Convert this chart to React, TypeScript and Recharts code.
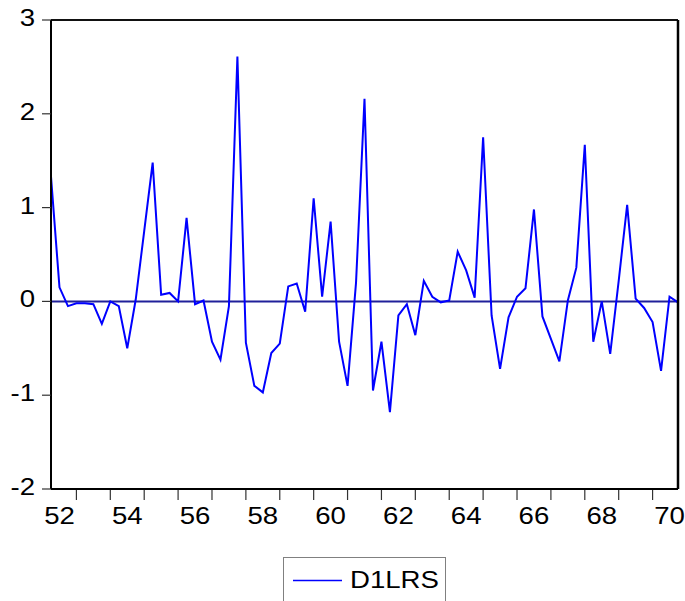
import React from "react";
import { LineChart, Line, XAxis, YAxis, ReferenceLine, Legend } from "recharts";

// D1LRS, quarterly from 1952Q2 to 1970Q4
const FIRST_YEAR = 1952;
const FIRST_QUARTER = 2;

const d1lrs = [
  1.33, 0.15, -0.05, -0.02, -0.02, -0.03, -0.24, 0.0, -0.05, -0.5,
  0.02, 0.75, 1.48, 0.07, 0.09, 0.0, 0.89, -0.03, 0.01, -0.43,
  -0.62, -0.05, 2.61, -0.44, -0.9, -0.97, -0.55, -0.45, 0.16, 0.19,
  -0.11, 1.1, 0.05, 0.85, -0.43, -0.9, 0.2, 2.16, -0.95, -0.43,
  -1.18, -0.15, -0.03, -0.36, 0.22, 0.05, -0.01, 0.01, 0.53, 0.33,
  0.04, 1.75, -0.15, -0.72, -0.17, 0.05, 0.14, 0.98, -0.16, -0.4,
  -0.64, 0.01, 0.36, 1.67, -0.43, 0.0, -0.56, 0.22, 1.03, 0.03,
  -0.07, -0.22, -0.74, 0.05, -0.01,
];

const yTicks = [-2, -1, 0, 1, 2, 3];
const markedYears = [1953, 1954, 1955, 1956, 1957, 1958, 1959, 1960, 1961, 1962, 1963, 1964, 1965, 1966, 1967, 1968, 1969, 1970];
const labelYears = [1952, 1954, 1956, 1958, 1960, 1962, 1964, 1966, 1968, 1970];

const data = d1lrs.map((v, i) => ({ t: i, D1LRS: v }));
const lastIndex = d1lrs.length - 1;

// index of the first quarter of a year on the observation axis
const yearStart = (y: number) => (y - FIRST_YEAR) * 4 - (FIRST_QUARTER - 1);
const startTicks = markedYears.map(yearStart);
const labelTicks = labelYears.map((y) => yearStart(y) + 2);
const labelFor: Record<number, string> = {};
labelYears.forEach((y) => {
  labelFor[yearStart(y) + 2] = String(y).slice(2);
});

const FONT = '"Liberation Sans", Arial, sans-serif';
const STRETCH = "scale(1.2,1)";

const XTick = (props: any) => {
  const { x, y, payload } = props;
  const v = payload.value;
  if (startTicks.includes(v)) {
    return <line x1={x} x2={x} y1={y + 1} y2={y + 11} stroke="#333" strokeWidth={1.2} />;
  }
  return (
    <text
      transform={`translate(${x},${y + 35}) ${STRETCH}`}
      textAnchor="middle"
      fontFamily={FONT}
      fontSize={23}
      fill="#000"
    >
      {labelFor[v]}
    </text>
  );
};

const YTick = (props: any) => {
  const { x, y, payload } = props;
  return (
    <g>
      <line x1={x - 9} x2={x} y1={y} y2={y} stroke="#333" strokeWidth={1.2} />
      <text
        transform={`translate(${x - 16},${y + 6}) ${STRETCH}`}
        textAnchor="end"
        fontFamily={FONT}
        fontSize={23}
        fill="#000"
      >
        {payload.value}
      </text>
    </g>
  );
};

const LegendBox = () => (
  <svg width={164} height={44} style={{ display: "block" }}>
    <rect x={0.5} y={0.5} width={162} height={60} fill="#fff" stroke="#808080" />
    <line x1={10} x2={59} y1={23.5} y2={23.5} stroke="#0000ff" strokeWidth={1.5} />
    <text transform={`translate(67,31) ${STRETCH}`} fontFamily={FONT} fontSize={23} fill="#000">
      D1LRS
    </text>
  </svg>
);

export default function App() {
  return (
    <div style={{ position: "absolute", left: 0, top: 0, background: "#fff" }}>
      <LineChart width={685} height={601} data={data} margin={{ top: 0, right: 0, bottom: 0, left: 0 }}>
        <XAxis
          dataKey="t"
          type="number"
          domain={[0, lastIndex]}
          ticks={[...startTicks, ...labelTicks].sort((a, b) => a - b)}
          interval={0}
          height={112}
          tickSize={0}
          tickMargin={0}
          tickLine={false}
          tick={<XTick />}
          axisLine={{ stroke: "#000", strokeWidth: 2 }}
        />
        <XAxis
          xAxisId="top"
          orientation="top"
          dataKey="t"
          type="number"
          domain={[0, lastIndex]}
          height={20}
          tick={false}
          tickLine={false}
          axisLine={{ stroke: "#111", strokeWidth: 2 }}
        />
        <YAxis
          type="number"
          domain={[-2, 3]}
          ticks={yTicks}
          interval={0}
          width={51}
          tickSize={0}
          tickMargin={0}
          tickLine={false}
          tick={<YTick />}
          axisLine={{ stroke: "#000", strokeWidth: 2 }}
        />
        <YAxis
          yAxisId="right"
          orientation="right"
          type="number"
          domain={[-2, 3]}
          width={7}
          tick={false}
          tickLine={false}
          axisLine={{ stroke: "#000", strokeWidth: 2.5 }}
        />
        <ReferenceLine y={0} stroke="#20209a" strokeWidth={2} />
        <Line
          type="linear"
          dataKey="D1LRS"
          stroke="#0000ff"
          strokeWidth={2}
          dot={false}
          isAnimationActive={false}
        />
        <Legend
          verticalAlign="middle"
          align="center"
          content={<LegendBox />}
          wrapperStyle={{ position: "absolute", left: 283, top: 557, width: 164, height: 44 }}
        />
      </LineChart>
    </div>
  );
}
